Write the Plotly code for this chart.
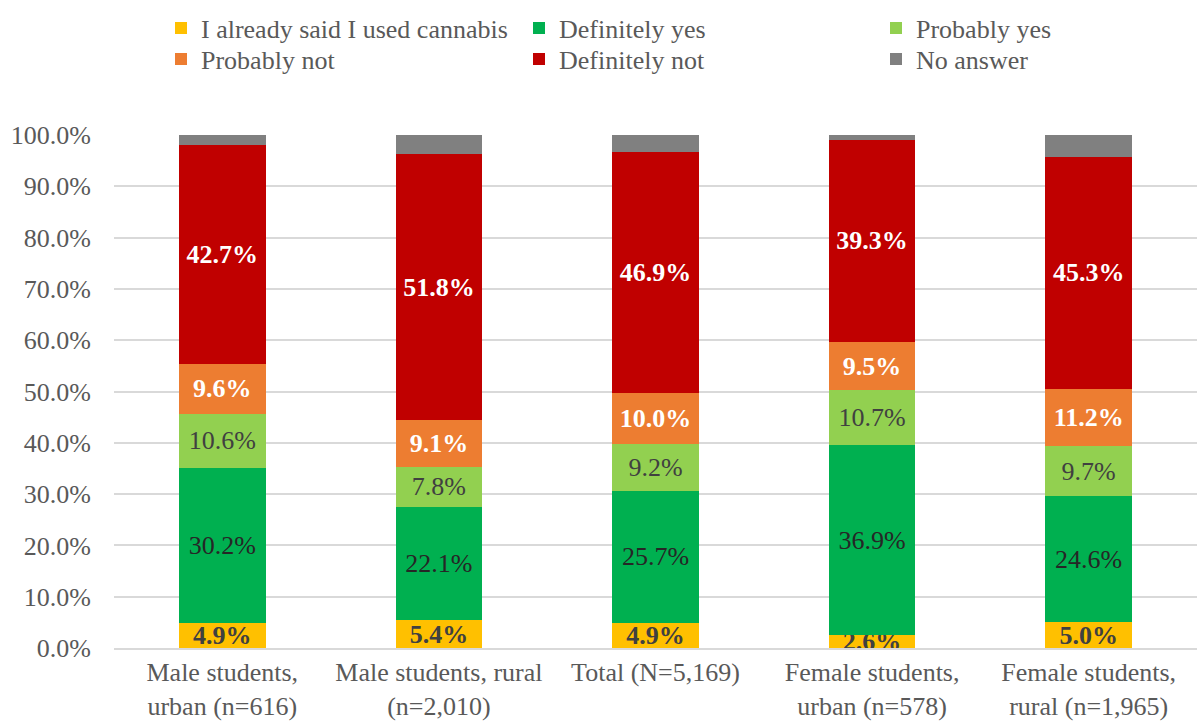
import plotly.graph_objects as go

categories = [
    "Male students,<br>urban (n=616)",
    "Male students, rural<br>(n=2,010)",
    "Total (N=5,169)",
    "Female students,<br>urban (n=578)",
    "Female students,<br>rural (n=1,965)",
]

already_used = [4.9, 5.4, 4.9, 2.6, 5.0]
definitely_yes = [30.2, 22.1, 25.7, 36.9, 24.6]
probably_yes = [10.6, 7.8, 9.2, 10.7, 9.7]
probably_not = [9.6, 9.1, 10.0, 9.5, 11.2]
definitely_not = [42.7, 51.8, 46.9, 39.3, 45.3]
no_answer = [2.0, 3.8, 3.3, 1.0, 4.2]

series = [
    ("I already said I used cannabis", already_used, "#FFC000", "#404040", 700, True),
    ("Definitely yes", definitely_yes, "#00B050", "#262626", 400, True),
    ("Probably yes", probably_yes, "#92D050", "#404040", 400, True),
    ("Probably not", probably_not, "#ED7D31", "#FFFFFF", 700, True),
    ("Definitely not", definitely_not, "#C00000", "#FFFFFF", 700, True),
    ("No answer", no_answer, "#808080", "#FFFFFF", 400, False),
]

FONT = "Liberation Serif, Times New Roman, serif"
TXT = 26
W, H = 1197, 722
ML, MR, MT, MB = 114, 0, 135, 74
PLOT_W = W - ML - MR

# legend grid: three columns, two rows (pixel anchors in the page)
legend_cols_px = [161, 519, 876]
legend_rows_px = [28, 59]

fig = go.Figure()
legend_layouts = {}
for i, (name, vals, color, tcolor, weight, labelled) in enumerate(series):
    key = "legend" if i == 0 else f"legend{i + 1}"
    fig.add_trace(go.Bar(
        name=name,
        x=categories,
        y=vals,
        legend=key,
        showlegend=True,
        marker=dict(color=color, line=dict(width=0)),
        text=[f"{v:.1f}%" for v in vals] if labelled else None,
        textposition="inside" if labelled else "none",
        insidetextanchor="middle",
        constraintext="none",
        textangle=0,
        insidetextfont=dict(family=FONT, size=TXT, color=tcolor, weight=weight),
        hoverinfo="skip",
    ))
    col, row = i % 3, i // 3
    legend_layouts[key] = dict(
        x=(legend_cols_px[col] - ML) / PLOT_W,
        xref="paper",
        xanchor="left",
        y=1 - legend_rows_px[row] / H,
        yref="container",
        yanchor="middle",
        orientation="v",
        itemwidth=30,
        bgcolor="rgba(0,0,0,0)",
        font=dict(family=FONT, size=TXT, color="#595959"),
    )

fig.update_layout(
    showlegend=True,
    barmode="stack",
    bargap=0.6,
    width=W,
    height=H,
    margin=dict(l=ML, r=MR, t=MT, b=MB, autoexpand=False),
    paper_bgcolor="white",
    plot_bgcolor="white",
    font=dict(family=FONT, size=TXT, color="#595959"),
    xaxis=dict(
        showline=True,
        linecolor="#D9D9D9",
        linewidth=2,
        tickfont=dict(family=FONT, size=TXT, color="#595959"),
        ticks="",
    ),
    yaxis=dict(
        range=[0, 100],
        tickvals=[0, 10, 20, 30, 40, 50, 60, 70, 80, 90, 100],
        ticktext=[f"{v:.1f}%" for v in [0, 10, 20, 30, 40, 50, 60, 70, 80, 90, 100]],
        showgrid=True,
        gridcolor="#D9D9D9",
        gridwidth=2,
        zeroline=False,
        ticks="",
        ticklabelstandoff=22,
        tickfont=dict(family=FONT, size=TXT, color="#595959"),
    ),
    **legend_layouts,
)

fig.write_html("out.html")
